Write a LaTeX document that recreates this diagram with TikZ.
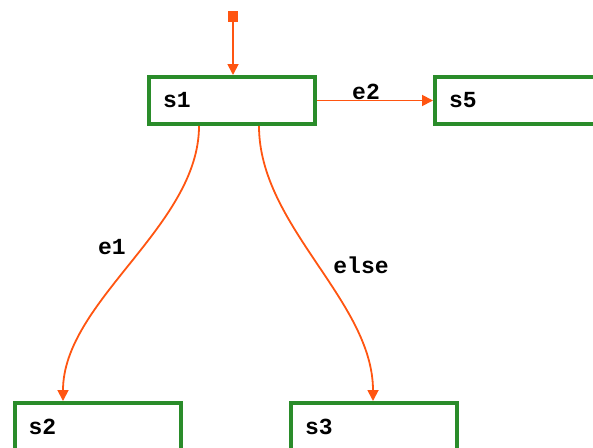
\documentclass[tikz,border=0pt]{standalone}
\usepackage{fontspec}
\setmonofont{Liberation Mono}
\usetikzlibrary{arrows.meta}
\definecolor{boxgreen}{RGB}{42,140,42}
\definecolor{linkorange}{RGB}{255,85,17}
\tikzset{
  statebox/.style={draw=boxgreen, line width=4pt, minimum height=47pt,
    text width=138pt, inner xsep=14pt, align=left,
    font=\fontsize{23}{26}\ttfamily\bfseries},
  link/.style={draw=linkorange, line width=1.8pt,
    -{Triangle[width=11pt,length=11pt]}},
  lbl/.style={font=\fontsize{23}{26}\ttfamily\bfseries, inner sep=0pt}
}
\begin{document}
\begin{tikzpicture}[x=1pt,y=-1pt]
\useasboundingbox (0,0) rectangle (593,447);
% states
\node[statebox] (s1) at (232,100.5) {s1};
\node[statebox] (s5) at (518,100.5) {s5};
\node[statebox] (s2) at (97.5,426.5) {s2};
\node[statebox] (s3) at (374,426.5) {s3};
% initial marker
\node[fill=linkorange, minimum width=10pt, minimum height=11pt, inner sep=0pt] (init) at (233,16) {};
\draw[link] (init) -- (init |- s1.north);
% transitions
\draw[link] (s1.east) -- (s5.west);
\node[lbl] (le2) at (366,92) {e2};
\draw[link] ([xshift=-33pt]s1.south) .. controls ++(0,100) and ([xshift=-34.5pt,yshift=100pt]s2.north) .. ([xshift=-34.5pt]s2.north);
\node[lbl] (le1) at (112,247.5) {e1};
\draw[link] ([xshift=27pt]s1.south) .. controls ++(0,100) and ([xshift=-1pt,yshift=100pt]s3.north) .. ([xshift=-1pt]s3.north);
\node[lbl] (lelse) at (361,265) {else};
\end{tikzpicture}
\end{document}
